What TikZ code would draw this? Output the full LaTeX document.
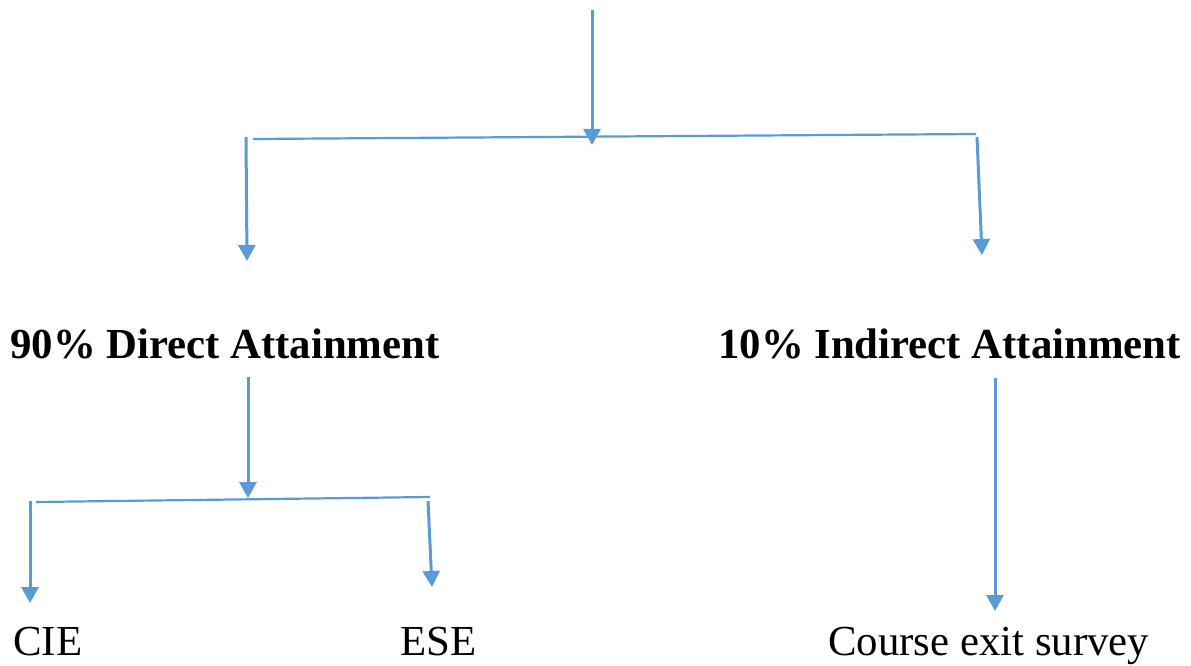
\documentclass[tikz,border=0pt]{standalone}
\usepackage{fontspec}
\setmainfont{Liberation Serif}
\usetikzlibrary{arrows.meta,positioning}

\definecolor{linkblue}{HTML}{5B9BD5}

\begin{document}
\begin{tikzpicture}
	[x=1pt,y=-1pt,
	main node/.style={anchor=base west,inner sep=0pt,font=\fontsize{42.8}{50}\selectfont},
	head node/.style={main node,font=\fontsize{42.8}{50}\selectfont\bfseries},
	link/.style={draw=linkblue,line width=3pt,-{Triangle[width=17pt,length=16pt,fill=linkblue]}},
	bar/.style={draw=linkblue,line width=2.2pt}]
	\useasboundingbox (0,0) rectangle (1191,666);

	\node [head node] (direct) at (10,358) {90\% Direct Attainment} ;
	\node [head node] (indirect) at (718,358) {10\% Indirect Attainment} ;
	\node [main node] (cie) at (13,655) {CIE} ;
	\node [main node] (ese) at (400,655) {ESE} ;
	\node [main node] (survey) at (828,655) {Course exit survey} ;

	% top split
	\coordinate (top) at (592,10) ;
	\coordinate (topin) at (592,145) ;
	\coordinate (barL) at (253,139) ;
	\coordinate (barR) at (976,134) ;
	\coordinate (leftA) at (246,137) ;
	\coordinate (leftB) at (247,261) ;
	\coordinate (rightA) at (977,137) ;
	\coordinate (rightB) at (982,255) ;

	% lower split
	\coordinate (midA) at (248,377) ;
	\coordinate (midB) at (248,498) ;
	\coordinate (lowL) at (36,502) ;
	\coordinate (lowR) at (430,497) ;
	\coordinate (cieA) at (30,501) ;
	\coordinate (cieB) at (30,603) ;
	\coordinate (eseA) at (428,501) ;
	\coordinate (eseB) at (432,587) ;
	\coordinate (surA) at (995,378) ;
	\coordinate (surB) at (995,611) ;

	\draw[bar] (barL) -- (barR) ;
	\draw[bar] (lowL) -- (lowR) ;

	\draw[link] (top) -- (topin) ;
	\draw[link] (leftA) -- (leftB) ;
	\draw[link] (rightA) -- (rightB) ;
	\draw[link] (midA) -- (midB) ;
	\draw[link] (cieA) -- (cieB) ;
	\draw[link] (eseA) -- (eseB) ;
	\draw[link] (surA) -- (surB) ;

\end{tikzpicture}
\end{document}
